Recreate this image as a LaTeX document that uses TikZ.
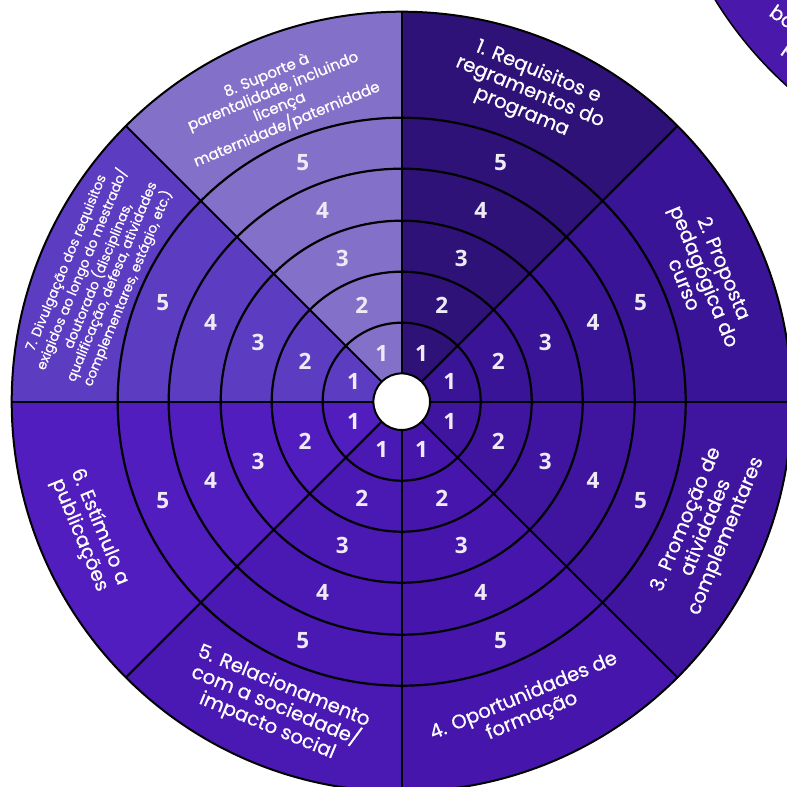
\documentclass[tikz,border=0pt]{standalone}
\usepackage{fontspec}
\setmainfont{Poppins}
\newfontfamily\lblfont{Poppins}[FakeBold=0.7]
\newfontfamily\numfont{Open Sans}
\definecolor{sA}{HTML}{2E1278}
\definecolor{sB}{HTML}{3A1496}
\definecolor{sC}{HTML}{3F15A0}
\definecolor{sD}{HTML}{4616AC}
\definecolor{sE}{HTML}{4A18B2}
\definecolor{sF}{HTML}{521DBF}
\definecolor{sG}{HTML}{5C3CC0}
\definecolor{sH}{HTML}{8370C8}
\definecolor{sOther}{HTML}{4A18AA}
\definecolor{numwhite}{HTML}{EEEBF7}
\tikzset{
  ringline/.style={line width=2.2pt, draw=black},
  spoke/.style={line width=2pt, draw=black},
  numlbl/.style={text=numwhite, font=\numfont\bfseries\fontsize{22.5}{22.5}\selectfont, inner sep=0pt},
  seclbl/.style={text=white, align=center, inner sep=0pt},
  bigtxt/.style={font=\lblfont\fontsize{19.5}{21.5}\selectfont},
}
\begin{document}
\begin{tikzpicture}[x=1pt,y=1pt]
\useasboundingbox (-401.7,-385.3) rectangle (385.3,401.7);
\begin{scope}
\clip (-401.7,-385.3) rectangle (385.3,401.7);
% other wheel, top right
\filldraw[fill=sOther, draw=black, line width=1.5pt] (648.3,607.7) circle (393);
\node[seclbl, bigtxt, anchor=base west, rotate=-35] (other1) at (366.3,386.7) {ba};
\node[seclbl, bigtxt, anchor=base west, rotate=-35] (other2) at (380.5,352) {p};
% sectors
\foreach \s/\e/\c in {45/90/sA, 0/45/sB, -45/0/sC, -90/-45/sD, -135/-90/sE, -180/-135/sF, 135/180/sG, 90/135/sH} {
  \fill[\c] (0,0) -- (\s:390) arc[start angle=\s, end angle=\e, radius=390] -- cycle;
}
% rings
\foreach \r in {79,130,181,233,284} {
  \draw[ringline] (0,0) circle (\r);
}
% spokes
\foreach \a in {0,45,...,315} {
  \draw[spoke] (\a:28) -- (\a:390);
}
\draw[line width=2pt] (0,0) circle (390);
\filldraw[fill=white, draw=black, line width=2pt] (0,0) circle (28.3);
\node[inner sep=0pt, minimum size=0pt] (hub) at (0,0) {};
% numbers
\foreach \a [count=\i] in {67.5,22.5,-22.5,-67.5,-112.5,-157.5,157.5,112.5} {
  \foreach \r [count=\k] in {52,104.5,155.5,207,258.5} {
    \node[numlbl] (n\i-\k) at (\a:\r) {\k};
  }
}
\end{scope}
% labels
\node[seclbl, bigtxt, rotate=-22.5] (l1) at (67.5:335) {1. Requisitos e\\regramentos do\\programa};
\node[seclbl, bigtxt, rotate=-67.5] (l2) at (22.5:328) {2. Proposta\\pedagógica do\\curso};
\node[seclbl, bigtxt, rotate=67.5] (l3) at (-22.5:330) {3. Promoção de\\atividades\\complementares};
\node[seclbl, bigtxt, rotate=22.5] (l4) at (-67.5:330) {4. Oportunidades de\\formação};
\node[seclbl, bigtxt, rotate=-22.5] (l5) at (-112.5:330) {5. Relacionamento\\com a sociedade/\\impacto social};
\node[seclbl, bigtxt, rotate=-67.5] (l6) at (-157.5:338) {6. Estímulo a\\publicações};
\node[seclbl, font=\lblfont\fontsize{13.5}{15}\selectfont, rotate=67.5] (l7) at (157.5:329) {7. Divulgação dos requisitos\\exigidos ao longo do mestrado/\\doutorado (disciplinas,\\qualificação, defesa, atividades\\complementares, estágio, etc.)};
\node[seclbl, font=\lblfont\fontsize{15}{17}\selectfont, rotate=22.5] (l8) at (112.5:326) {8. Suporte à\\parentalidade, incluindo\\licença\\maternidade/paternidade};
\end{tikzpicture}
\end{document}
